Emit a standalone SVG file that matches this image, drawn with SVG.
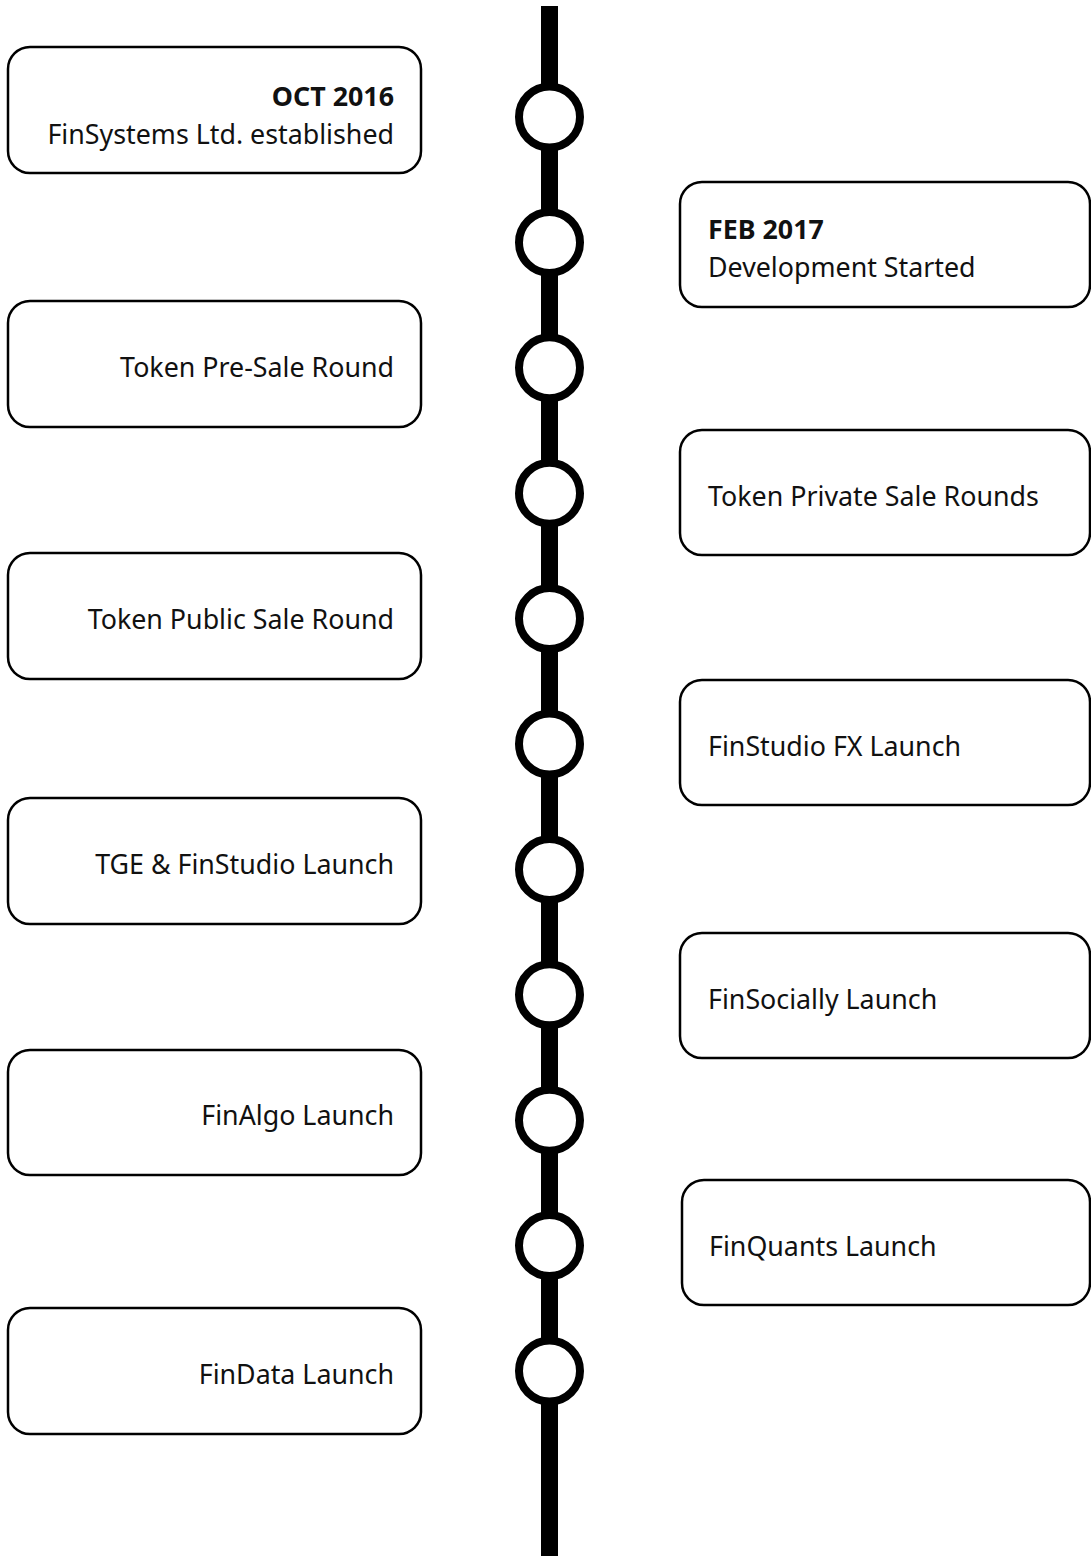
<svg xmlns="http://www.w3.org/2000/svg" width="1091" height="1556" viewBox="0 0 1091 1556">
<style>
.box{fill:#fff;stroke:#000;stroke-width:2.5}
.dot{fill:#fff;stroke:#000;stroke-width:8}
text{font-family:"Noto Sans","Open Sans","Liberation Sans",sans-serif;font-size:26.8px;fill:#111}
.b{font-weight:bold}
.l{text-anchor:end}
</style>
<rect width="1091" height="1556" fill="#fff"/>
<g id="connectors">
<rect x="541" y="6" width="17" height="1550" fill="#000"/>
</g>
<g id="markers">
<circle class="dot" cx="549.5" cy="117" r="30.5"/>
<circle class="dot" cx="549.5" cy="242.4" r="30.5"/>
<circle class="dot" cx="549.5" cy="367.8" r="30.5"/>
<circle class="dot" cx="549.5" cy="493.2" r="30.5"/>
<circle class="dot" cx="549.5" cy="618.6" r="30.5"/>
<circle class="dot" cx="549.5" cy="744" r="30.5"/>
<circle class="dot" cx="549.5" cy="869.4" r="30.5"/>
<circle class="dot" cx="549.5" cy="994.8" r="30.5"/>
<circle class="dot" cx="549.5" cy="1120.2" r="30.5"/>
<circle class="dot" cx="549.5" cy="1245.6" r="30.5"/>
<circle class="dot" cx="549.5" cy="1371" r="30.5"/>
</g>
<g id="n1"><rect class="box" x="8" y="47" width="413" height="126" rx="22"/><text class="b l" x="394" y="106">OCT 2016</text><text class="l" x="394" y="144">FinSystems Ltd. established</text></g>
<g id="n2"><rect class="box" x="680" y="182" width="410" height="125" rx="22"/><text class="b" x="708" y="239">FEB 2017</text><text x="708" y="277">Development Started</text></g>
<g id="n3"><rect class="box" x="8" y="301" width="413" height="126" rx="22"/><text class="l" x="394" y="377">Token Pre-Sale Round</text></g>
<g id="n4"><rect class="box" x="680" y="430" width="410" height="125" rx="22"/><text x="708" y="506">Token Private Sale Rounds</text></g>
<g id="n5"><rect class="box" x="8" y="553" width="413" height="126" rx="22"/><text class="l" x="394" y="629">Token Public Sale Round</text></g>
<g id="n6"><rect class="box" x="680" y="680" width="410" height="125" rx="22"/><text x="708" y="756">FinStudio FX Launch</text></g>
<g id="n7"><rect class="box" x="8" y="798" width="413" height="126" rx="22"/><text class="l" x="394" y="874">TGE &amp; FinStudio Launch</text></g>
<g id="n8"><rect class="box" x="680" y="933" width="410" height="125" rx="22"/><text x="708" y="1009">FinSocially Launch</text></g>
<g id="n9"><rect class="box" x="8" y="1050" width="413" height="125" rx="22"/><text class="l" x="394" y="1125">FinAlgo Launch</text></g>
<g id="n10"><rect class="box" x="682" y="1180" width="408" height="125" rx="22"/><text x="709" y="1256">FinQuants Launch</text></g>
<g id="n11"><rect class="box" x="8" y="1308" width="413" height="126" rx="22"/><text class="l" x="394" y="1384">FinData Launch</text></g>
</svg>
